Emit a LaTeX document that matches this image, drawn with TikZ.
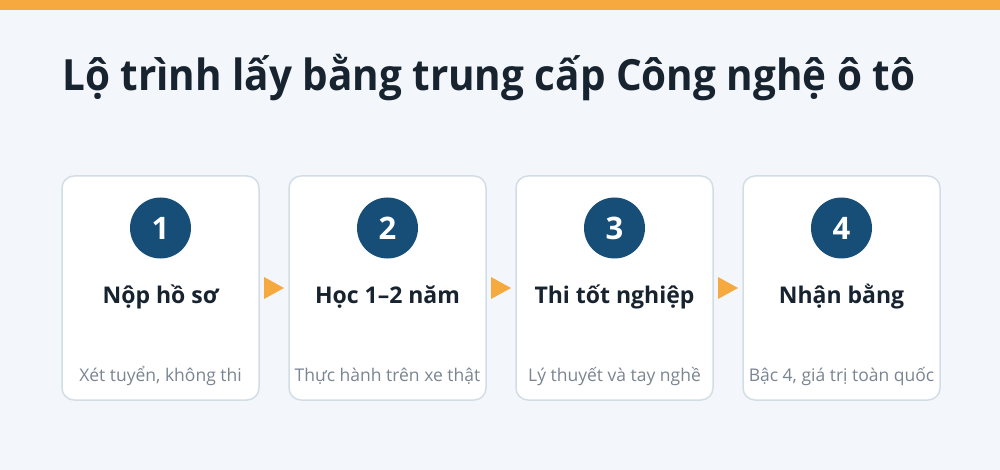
\documentclass[tikz,border=0pt]{standalone}
\usepackage{fontspec}
\setmainfont{Open Sans}
\usetikzlibrary{positioning,calc}
\definecolor{bgpage}{HTML}{F3F7FB}
\definecolor{barorange}{HTML}{F5A93F}
\definecolor{inkdark}{HTML}{17232F}
\definecolor{stepblue}{HTML}{164E78}
\definecolor{cardline}{HTML}{D3DDE6}
\definecolor{notegray}{HTML}{7A8591}
\tikzset{
  card/.style={draw=cardline, line width=1.5pt, fill=white, rounded corners=12pt,
    minimum width=197pt, minimum height=224pt, inner sep=0},
  badge/.style={circle, fill=stepblue, minimum size=61pt, inner sep=0,
    text=white, font=\bfseries\fontsize{31}{34}\selectfont},
  stepname/.style={text=inkdark, font=\bfseries\fontsize{23}{26}\selectfont},
  stepnote/.style={text=notegray, font=\fontsize{17.5}{20}\selectfont},
  pointer/.style={fill=barorange, draw=none},
}
\begin{document}
\begin{tikzpicture}[x=1pt, y=-1pt]
  \fill[bgpage] (0, 0) rectangle (1000, 470);
  \fill[barorange] (0, 0) rectangle (1000, 10);

  \node[anchor=base west, text=inkdark, inner sep=0, xscale=0.94,
    font=\bfseries\fontsize{43}{48}\selectfont] (title) at (62, 91)
    {Lộ trình lấy bằng trung cấp Công nghệ ô tô};

  \foreach \i/\name/\note in {1/Nộp hồ sơ/Xét tuyển{,} không thi,
      2/Học 1–2 năm/Thực hành trên xe thật,
      3/Thi tốt nghiệp/Lý thuyết và tay nghề,
      4/Nhận bằng/Bậc 4{,} giá trị toàn quốc} {
    \node[card] (s\i) at (160.5 + 227*\i - 227, 288) {};
    \node[badge] (b\i) at ([yshift=60pt]s\i.center) {\i};
    \node[stepname, anchor=base] (n\i) at ([yshift=-15pt]s\i.center) {\name};
    \node[stepnote, anchor=base] (t\i) at ([yshift=-93pt]s\i.center) {\note};
  }

  % small orange pointers between the cards
  \foreach \i/\j in {1/2, 2/3, 3/4} {
    \coordinate (p\i) at ($(s\i.east)!0.5!(s\j.west)$);
    \fill[pointer] ([xshift=-10pt, yshift=-11pt]p\i) -- ([xshift=10pt]p\i)
      -- ([xshift=-10pt, yshift=11pt]p\i) -- cycle;
  }
\end{tikzpicture}
\end{document}
